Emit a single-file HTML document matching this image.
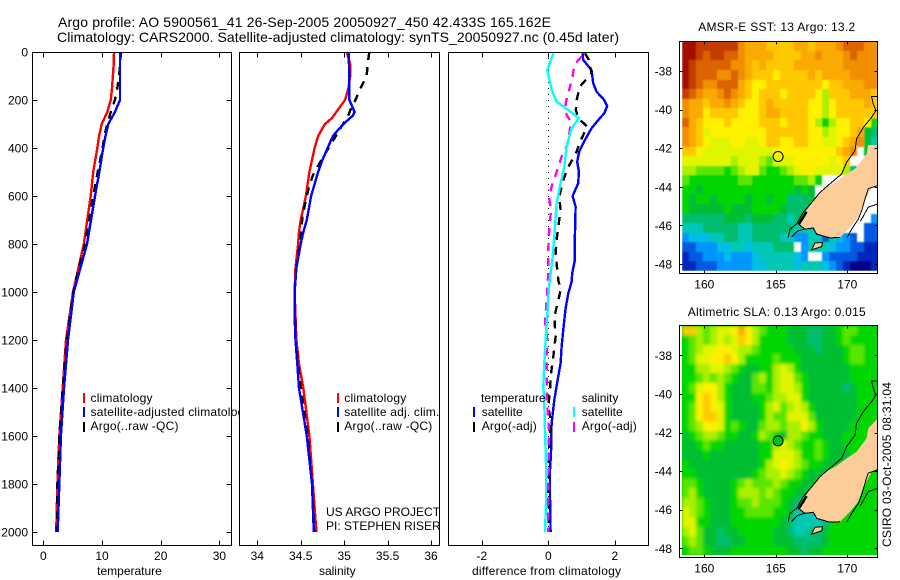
<!DOCTYPE html>
<html>
<head>
<meta charset="utf-8">
<title>Argo profile</title>
<style>
html,body{margin:0;padding:0;background:#fff;}
svg{display:block;font-family:"Liberation Sans",sans-serif;font-size:12px;fill:#000;}
.t14{font-size:14px;}
</style>
</head>
<body>
<svg id="fig" xmlns="http://www.w3.org/2000/svg" width="900" height="580" viewBox="0 0 900 580">
<defs>
  <filter id="soft-sla" x="-5%" y="-5%" width="110%" height="110%"><feGaussianBlur stdDeviation="1.7"/></filter>
  <filter id="soft-sst" x="-5%" y="-5%" width="110%" height="110%"><feGaussianBlur stdDeviation="0.9"/></filter>
</defs>
<rect x="0" y="0" width="900" height="580" fill="#fff"/>
<text class="t14" x="58" y="27" textLength="493" lengthAdjust="spacing">Argo profile: AO 5900561_41 26-Sep-2005 20050927_450 42.433S 165.162E</text>
<text class="t14" x="57" y="42" textLength="562" lengthAdjust="spacing">Climatology: CARS2000. Satellite-adjusted climatology: synTS_20050927.nc (0.45d later)</text>

<g id="p1">
  <g id="p1-marks"></g>
  <g>
    <rect x="83" y="393" width="2" height="10" fill="#f00"/>
    <text x="90.5" y="402" textLength="62">climatology</text>
    <rect x="83" y="407" width="2" height="10" fill="#00f"/>
    <text x="90.5" y="416" textLength="160">satellite-adjusted climatology</text>
    <rect x="83" y="422" width="2" height="10" fill="#000"/>
    <text x="90.5" y="430" textLength="88">Argo(..raw -QC)</text>
  </g>
  <text x="129.5" y="575" text-anchor="middle">temperature</text>
</g>

<g id="p2">
  <g id="p2-marks"></g>
  <g>
    <rect x="337" y="393" width="2" height="10" fill="#f00"/>
    <text x="344.3" y="402" textLength="62">climatology</text>
    <rect x="337" y="407" width="2" height="10" fill="#00f"/>
    <text x="344.3" y="416" textLength="95">satellite adj. clim.</text>
    <rect x="337" y="422" width="2" height="10" fill="#000"/>
    <text x="344.3" y="430" textLength="88">Argo(..raw -QC)</text>
  </g>
  <text x="326" y="516">US ARGO PROJECT</text>
  <text x="326" y="530">PI: STEPHEN RISER</text>
  <text x="337.3" y="575" text-anchor="middle">salinity</text>
</g>

<g id="p3">
  <g id="p3-marks"></g>
  <g>
    <text x="481" y="402">temperature</text>
    <rect x="473" y="407" width="2" height="10" fill="#00f"/>
    <text x="481.7" y="416" textLength="41">satellite</text>
    <rect x="473" y="422" width="2" height="10" fill="#000"/>
    <text x="481.7" y="430" textLength="55">Argo(-adj)</text>
    <text x="581.7" y="402">salinity</text>
    <rect x="573" y="407" width="2" height="10" fill="#0ff"/>
    <text x="581.7" y="416" textLength="41">satellite</text>
    <rect x="573" y="422" width="2" height="10" fill="#f0f"/>
    <text x="581.7" y="430" textLength="55">Argo(-adj)</text>
  </g>
  <text x="546.5" y="575" text-anchor="middle" textLength="149">difference from climatology</text>
</g>

<g id="m1"></g>
<text x="776.7" y="31" text-anchor="middle" textLength="157">AMSR-E SST: 13 Argo: 13.2</text>
<g id="m2"></g>
<text x="776.7" y="316" text-anchor="middle" textLength="178">Altimetric SLA: 0.13 Argo: 0.015</text>
<text transform="translate(891,464.5) rotate(-90)" text-anchor="middle" textLength="165">CSIRO 03-Oct-2005 08:31:04</text>
</svg>

<script>
// ---- Profile data ----
const depthTicks = [0,200,400,600,800,1000,1200,1400,1600,1800,2000];
const tempTicks = [0,10,20,30];
const salTicks = [34,34.5,35,35.5,36];
const salTickLabels = ['34','34.5','35','35.5','36'];
const diffTicks = [-2,0,2];

const tempDepths = [0,50,100,150,200,250,300,350,400,500,600,800,1000,1200,1400,1600,1800,2000];
const tempClimatology = [12.05,12.0,11.85,11.7,11.5,10.9,9.95,9.5,9.2,8.5,8.07,6.9,5.06,3.87,3.3,2.73,2.4,2.2];
const tempSatellite = [13.07,13.07,13.07,13.07,13.07,12.2,11.07,10.6,10.2,9.54,8.8,7.45,5.2,4.2,3.53,3.0,2.73,2.45];
const tempArgo = [13.2,13.1,12.9,12.6,12.2,11.5,10.9,10.4,10.1,9.27,8.5,7.1,5.1,4.0,3.3,2.73,2.4,2.3];

const salClimDepths = [0,50,100,150,200,225,250,275,300,350,400,450,500,600,700,750,800,900,1000,1100,1200,1300,1400,1600,1800,2000];
const salClimatology = [35.03,35.07,35.07,35.05,35.01,34.96,34.91,34.86,34.78,34.70,34.66,34.63,34.60,34.56,34.50,34.48,34.47,34.44,34.43,34.44,34.45,34.48,34.53,34.60,34.64,34.68];
const salSatDepths = [0,100,200,225,250,265,275,300,350,400,450,500,600,700,750,800,900,1000,1100,1200,1300,1400,1600,1800,2000];
const salSatellite = [35.05,35.06,35.06,35.09,35.12,35.10,35.07,34.99,34.87,34.81,34.75,34.70,34.62,34.57,34.53,34.50,34.45,34.43,34.43,34.44,34.46,34.48,34.57,34.63,34.65];
const salArgoDepths = [0,50,100,150,200,225,262,311,443,505,554,616,686,769,900,1000,1200,1400,1600,1800,2000];
const salArgo = [35.29,35.27,35.26,35.19,35.13,35.09,35.05,34.97,34.75,34.65,34.60,34.56,34.52,34.50,34.45,34.43,34.44,34.50,34.58,34.63,34.66];

const diffTempSatDepths = [5,33,75,130,165,200,225,256,276,318,367,415,457,499,547,600,644,769,867,922,957,1006,1068,1145,1228,1297,1367,1450,1547,1672,1742,1853,2000];
const diffTempSat = [1.03,1.05,1.30,1.35,1.45,1.68,1.77,1.68,1.55,1.30,1.10,0.93,0.87,0.92,0.90,0.73,0.82,0.80,0.80,0.72,0.70,0.60,0.52,0.46,0.40,0.37,0.28,0.18,0.10,0.08,0.05,0.05,0.07];
const diffTempArgoDepths = [5,33,89,144,200,242,276,311,367,415,485,533,603,658,728,783,839,880,950,992,1047,1103,1186,1270,1339,1408,1478,1540,1644,1853,1936,2000];
const diffTempArgo = [1.1,1.22,1.3,0.95,0.85,0.83,0.9,1.17,0.98,0.85,0.58,0.45,0.33,0.37,0.30,0.25,0.22,0.25,0.30,0.37,0.28,0.18,0.22,0.15,0.08,0.05,0.0,0.08,0.02,0.0,0.02,0.0];
const diffSalSatDepths = [5,75,158,207,242,276,318,394,478,561,631,769,867,978,1075,1172,1297,1394,1464,1575,1714,1881,2000];
const diffSalSat = [0.15,-0.03,0.10,0.25,0.60,0.92,0.70,0.55,0.48,0.35,0.25,0.18,0.12,0.02,-0.02,-0.07,-0.12,-0.15,-0.12,-0.10,-0.07,-0.07,-0.10];
const diffSalArgoDepths = [19,54,103,158,214,262,290,353,394,436,513,561,603,658,755,825,922,1033,1131,1200,1297,1436,1575,1853,2000];
const diffSalArgo = [1.0,0.78,0.73,0.63,0.52,0.55,0.68,0.62,0.55,0.40,0.22,0.10,0.02,0.08,0.02,0.0,0.0,-0.05,-0.10,-0.03,-0.05,-0.05,0.02,0.0,0.0];

// ---- Map data: colour-level grids, 28 columns by 24 rows (null = no data) ----
const lonTicks = [160,165,170];
const latTicks = [-38,-40,-42,-44,-46,-48];
const floatLon = 165.162;
const floatLat = -42.433;
const sstGrid = [
[18,18,17,17,17,17,17,17,15,14,14,14,13,13,13,13,14,14,13,14,14,14,15,16,16,16,15,15],
[18,18,17,16,17,17,16,16,15,14,14,14,14,13,13,13,13,14,14,15,14,14,14,15,16,15,15,15],
[18,17,16,16,16,16,16,15,15,14,13,14,13,13,13,13,14,14,14,14,14,14,14,15,15,15,15,15],
[18,17,16,16,16,15,15,16,15,14,13,13,13,12,13,13,13,13,14,13,14,14,14,14,15,15,15,15],
[18,17,16,15,15,16,16,16,14,13,12,12,13,13,13,13,13,13,13,13,12,13,13,14,14,14,15,15],
[17,16,15,14,14,15,16,15,14,13,12,13,13,13,12,13,13,13,13,12,10,13,13,13,14,14,14,13],
[15,14,14,13,14,14,15,14,13,12,12,13,14,13,13,13,13,13,12,12,10,12,13,13,13,13,14,13],
[15,14,14,12,13,13,13,13,12,12,12,13,14,14,13,13,13,13,12,12,10,12,13,13,13,13,13,13],
[16,14,13,12,12,12,13,12,12,12,12,13,13,13,12,13,13,13,12,10,8,10,12,12,13,13,12,8],
[15,14,13,11,12,12,12,12,12,12,12,12,13,13,13,13,13,13,12,12,10,11,12,12,13,14,7,6],
[15,14,13,12,11,11,11,12,12,11,11,12,13,13,12,12,13,13,12,12,11,11,12,13,14,15,7,5],
[13,13,12,11,11,11,11,11,11,11,11,11,11,12,12,12,12,12,12,12,12,12,13,14,15,null,7,null],
[11,11,11,11,11,11,11,10,11,11,11,10,9,11,11,11,12,12,12,12,12,11,12,13,null,null,null,null],
[10,10,9,9,9,9,8,9,10,11,11,9,8,8,9,10,11,12,12,11,11,11,11,10,6,null,null,null],
[9,8,8,8,8,8,8,8,9,9,8,8,8,8,8,8,9,9,10,8,null,null,null,null,null,null,null,null],
[8,8,7,8,8,8,8,8,8,8,8,8,8,8,8,8,7,8,7,null,null,null,null,null,null,null,null,null],
[8,7,8,8,7,8,8,8,8,7,8,8,7,8,8,6,6,6,7,null,null,null,null,null,null,null,null,null],
[8,7,7,7,7,7,8,7,7,7,8,8,8,8,7,6,6,6,6,null,null,null,null,null,null,null,null,null],
[6,6,6,6,6,6,7,7,7,6,7,7,7,6,6,5,6,6,null,null,null,null,null,null,null,null,null,3],
[5,5,5,6,6,6,6,6,5,5,6,6,6,6,6,6,5,5,5,5,null,null,null,null,null,null,2,2],
[3,4,4,4,5,5,6,6,5,5,6,6,6,6,5,5,3,3,5,5,2,5,4,3,2,null,2,2],
[2,2,3,3,3,4,4,5,5,4,5,5,5,6,6,6,null,3,5,5,5,4,3,3,2,2,1,1],
[1,2,2,3,3,3,4,3,3,3,4,5,5,5,5,5,4,3,null,null,3,2,2,2,2,1,1,1],
[1,1,2,2,2,3,3,3,3,3,4,4,5,5,5,5,4,5,5,5,4,3,2,1,0,0,0,1]
];
const slaGrid = [
[13,13,10,9,10,11,11,12,14,12,10,9,8,8,8,7,7,7,6,6,7,7,8,9,9,8,8,8],
[8,9,10,9,10,11,10,11,13,12,10,8,8,8,8,7,7,7,6,6,7,7,8,9,8,8,8,8],
[8,9,10,11,11,12,12,11,10,10,9,8,8,8,8,8,7,7,7,6,7,7,7,8,9,9,8,8],
[8,9,11,11,12,12,13,12,10,8,8,8,8,9,8,8,8,7,7,7,7,7,7,8,9,9,8,8],
[8,8,10,10,11,11,10,9,8,7,7,8,8,10,11,10,8,7,7,7,7,7,7,7,8,8,8,8],
[8,8,9,10,9,10,9,8,7,7,9,10,8,10,11,11,9,8,7,7,7,7,7,7,8,8,8,8],
[8,9,11,12,12,10,8,7,7,7,9,9,8,10,11,11,10,8,7,7,7,7,7,6,7,8,8,8],
[8,8,12,13,12,10,8,7,7,7,8,8,9,10,10,11,11,8,7,7,7,7,7,7,7,8,8,8],
[8,9,12,13,12,11,8,7,7,7,7,8,10,11,9,10,11,10,8,7,7,7,7,7,7,8,8,8],
[8,9,12,13,13,11,8,7,7,7,7,8,10,9,9,11,11,11,9,7,7,7,7,7,7,8,8,8],
[8,9,10,12,12,11,8,9,8,7,7,9,10,10,9,10,10,12,10,8,7,7,7,7,8,8,8,8],
[7,8,9,10,10,9,8,8,7,7,8,10,9,8,7,10,10,9,8,8,7,7,7,8,8,8,8,8],
[7,7,8,9,8,8,7,7,7,7,7,8,8,10,11,10,9,8,8,9,8,7,7,8,8,8,8,8],
[7,7,7,8,7,7,7,7,7,7,7,8,8,11,11,11,10,8,8,9,8,7,7,7,8,8,8,8],
[8,7,7,7,7,7,7,7,7,7,7,8,10,11,12,11,10,9,8,8,7,7,7,7,8,8,8,8],
[8,8,7,7,7,7,7,7,7,7,8,9,10,10,11,10,9,8,7,7,7,7,7,7,8,8,8,8],
[9,9,8,7,7,7,7,8,9,10,9,9,9,10,9,8,8,7,7,7,7,7,8,8,8,8,8,8],
[9,10,8,7,7,7,7,8,10,10,10,9,10,9,8,8,7,7,6,7,7,8,8,8,8,8,8,8],
[10,10,9,8,7,7,7,8,9,9,10,9,9,9,8,7,6,5,5,7,8,8,8,8,8,8,8,8],
[11,10,9,8,7,7,7,8,8,9,9,9,9,8,8,7,5,5,5,5,7,8,8,8,8,8,8,8],
[11,11,8,8,7,7,7,8,8,8,8,8,8,8,7,6,5,5,5,5,6,8,8,8,8,8,8,8],
[10,11,9,7,7,6,7,7,8,8,8,8,8,7,7,6,5,5,6,6,7,8,8,8,8,8,8,8],
[9,10,9,7,7,6,6,7,7,8,8,8,8,7,7,7,6,6,6,6,7,8,8,8,8,8,8,8],
[8,9,9,8,7,7,7,8,8,8,8,8,8,8,8,7,7,6,7,7,8,8,8,8,8,8,8,8]
];
const southIslandLon = [172.1,171.47,171.35,170.65,169.95,169.14,168.32,167.62,167.04,166.57,167.04,167.62,167.86,168.79,169.49,170.19,170.77,171.0,171.35,171.7,172.1];
const southIslandLat = [-41.3,-41.78,-42.3,-43.0,-43.34,-43.77,-44.11,-44.72,-45.32,-45.93,-46.19,-46.13,-46.45,-46.65,-46.62,-46.1,-45.58,-45.06,-44.55,-44.03,-43.94];
const southShoreLon = [166.57,167.04,167.62,167.86,168.79,169.49];
const southShoreLat = [-45.93,-46.19,-46.13,-46.45,-46.65,-46.62];
const stewartIslandLon = [167.5,167.74,168.27,168.2];
const stewartIslandLat = [-47.27,-46.91,-46.88,-47.1];
const westCoastLon = [172.1,171.7,171.82,172.0,171.7,171.12,170.65,170.54,169.95,169.6,168.9,168.09,167.62,166.92,166.46,165.99,165.87];
const westCoastLat = [-39.33,-39.33,-39.71,-40.06,-40.4,-40.92,-41.52,-42.13,-42.73,-43.34,-43.77,-44.29,-44.72,-45.32,-45.93,-46.19,-46.62];
const eastCoastLon = [172.1,171.47,171.3,171.0,170.77,170.3,169.95];
const eastCoastLat = [-43.94,-44.1,-44.47,-45.25,-45.68,-46.2,-46.66];
const eastCoast2Lon = [172.1,171.47,171.1,170.9];
const eastCoast2Lat = [-44.9,-45.05,-45.55,-45.8];
const fjordLon = [166.6,166.9,167.15];
const fjordLat = [-45.95,-45.6,-45.3];
const southCoastLon = [166.1,166.5,167.1];
const southCoastLat = [-46.6,-46.3,-46.17];

const colourLevels = ['#00008c','#0028be','#005ae1','#0096ff','#00bee6','#00c8b4','#00be6e','#00be32','#00d700','#5ae600','#aaf000','#e1f500','#fff000','#ffc800','#faaa00','#f09000','#dc6400','#c33c00','#a50f00'];

// ---- Axis functions ----
const yOfDepth = d => 52 + 0.24 * d;
const xOfTemp = t => 43.3 + 5.87 * t;
const xOfSal = s => 257.3 + 86.85 * (s - 34);
const xOfDiff = v => 548.3 + 33.25 * v;
const xOfLon = lon => 704.3 + 14.3 * (lon - 160);

const SVGNS = 'http://www.w3.org/2000/svg';
function mk(tag, parent, attrs) {
  const el = document.createElementNS(SVGNS, tag);
  for (const k in attrs) el.setAttribute(k, attrs[k]);
  parent.appendChild(el);
  return el;
}

function drawLine(parent, name, xs, ys, xf, yf, color, width, dash, clip) {
  const pts = xs.map((v, i) => xf(v).toFixed(1) + ',' + yf(ys[i]).toFixed(1)).join(' ');
  const el = mk('polyline', parent, {points: pts, fill: 'none', stroke: color, 'stroke-width': width, 'shape-rendering': 'crispEdges'});
  if (dash) el.setAttribute('stroke-dasharray', dash);
  if (clip) el.setAttribute('clip-path', 'url(#' + clip + ')');
  
  
  return el;
}

function drawBox(parent, x0, x1, y0, y1) {
  const el = mk('rect', parent, {x: x0 + 0.5, y: y0 + 0.5, width: x1 - x0, height: y1 - y0, fill: 'none', stroke: '#000', 'stroke-width': 1, 'shape-rendering': 'crispEdges'});
  
  
}

function drawBg(parent, x0, x1, y0, y1) {
  const el = mk('rect', parent, {x: x0, y: y0, width: x1 - x0 + 1, height: y1 - y0 + 1, fill: '#fff'});
  
  
}

function tick(parent, x1, y1, x2, y2) {
  const el = mk('line', parent, {x1: Math.round(x1) + 0.5, y1: Math.round(y1) + 0.5, x2: Math.round(x2) + 0.5, y2: Math.round(y2) + 0.5, stroke: '#000', 'stroke-width': 1, 'shape-rendering': 'crispEdges'});
  
  
}

function label(parent, x, y, str, anchor) {
  const el = mk('text', parent, {x: x, y: y, 'text-anchor': anchor});
  el.textContent = str;
  
  
}

function xAxis(parent, ticks, labels, xf, top, bottom, len) {
  ticks.forEach((v, i) => {
    tick(parent, xf(v), top, xf(v), top + len);
    tick(parent, xf(v), bottom, xf(v), bottom - len);
    label(parent, xf(v), bottom + 15, labels[i], 'middle');
  });
}

function clipRect(id, x0, x1, y0, y1) {
  const defs = mk('clipPath', document.getElementById('fig'), {id: id});
  mk('rect', defs, {x: x0, y: y0, width: x1 - x0, height: y1 - y0});
}

const LW = 2.4;
const DASH = '8 7';

// ---- Panel 1: temperature ----
const p1 = document.getElementById('p1-marks');
drawBg(p1, 32, 231, 52, 545);
drawLine(p1, 'temperature-climatology-line', tempClimatology, tempDepths, xOfTemp, yOfDepth, '#f00', LW);
drawLine(p1, 'temperature-argo-line', tempArgo, tempDepths, xOfTemp, yOfDepth, '#000', LW, DASH);
drawLine(p1, 'temperature-satellite-line', tempSatellite, tempDepths, xOfTemp, yOfDepth, '#00f', LW);
drawBox(p1, 32, 231, 52, 545);
xAxis(p1, tempTicks, tempTicks.map(String), xOfTemp, 52, 545, 5);
depthTicks.forEach(d => {
  tick(p1, 32, yOfDepth(d), 37, yOfDepth(d));
  tick(p1, 231, yOfDepth(d), 226, yOfDepth(d));
  label(p1, 28, yOfDepth(d) + 4.5, String(d), 'end');
});

// ---- Panel 2: salinity ----
const p2 = document.getElementById('p2-marks');
drawBg(p2, 239, 439, 52, 545);
drawLine(p2, 'salinity-climatology-line', salClimatology, salClimDepths, xOfSal, yOfDepth, '#f00', LW);
drawLine(p2, 'salinity-argo-line', salArgo, salArgoDepths, xOfSal, yOfDepth, '#000', LW, DASH);
drawLine(p2, 'salinity-satellite-line', salSatellite, salSatDepths, xOfSal, yOfDepth, '#00f', LW);
drawBox(p2, 239, 439, 52, 545);
xAxis(p2, salTicks, salTickLabels, xOfSal, 52, 545, 5);

// ---- Panel 3: difference ----
const p3 = document.getElementById('p3-marks');
drawBg(p3, 448, 648, 52, 545);
const zeroLine = mk('line', p3, {x1: 548.5, y1: 52, x2: 548.5, y2: 532, stroke: '#000', 'stroke-width': 1, 'stroke-dasharray': '1 5', 'shape-rendering': 'crispEdges'});


drawLine(p3, 'diff-temperature-satellite-line', diffTempSat, diffTempSatDepths, xOfDiff, yOfDepth, '#00f', LW);
drawLine(p3, 'diff-temperature-argo-line', diffTempArgo, diffTempArgoDepths, xOfDiff, yOfDepth, '#000', LW, DASH);
drawLine(p3, 'diff-salinity-argo-line', diffSalArgo, diffSalArgoDepths, xOfDiff, yOfDepth, '#f0f', LW, DASH);
drawLine(p3, 'diff-salinity-satellite-line', diffSalSat, diffSalSatDepths, xOfDiff, yOfDepth, '#0ff', LW);
drawBox(p3, 448, 648, 52, 545);
xAxis(p3, diffTicks, diffTicks.map(String), xOfDiff, 52, 545, 5);

// ---- Maps ----
function drawMap(group, grid, name, y38, top, bottom, markerFill, softFilter, underlay, landTop) {
  const yOfLat = lat => y38 + 19.3 * (-38 - lat);
  const lon0 = 158.44, lat0 = -36.46, dLon = 0.4895, dLat = 0.4959;
  const clipId = name + '-clip';
  const landClipId = name + '-land-clip';
  const gridClipId = name + '-grid-clip';
  clipRect(clipId, 679, 878, top, bottom);
  clipRect(landClipId, 679, 878, landTop, bottom);
  const gridBottom = Math.round(yOfLat(lat0 - grid.length * dLat));
  clipRect(gridClipId, 682, 878, top, gridBottom);
  const clipHolder = mk('g', group, {'clip-path': 'url(#' + gridClipId + ')'});
  
  
  if (underlay) {
    const base = mk('rect', clipHolder, {x: 682, y: top, width: 196, height: gridBottom - top, fill: underlay});
    
    
  }
  const cells = mk('g', clipHolder, {filter: 'url(#' + softFilter + ')'});
  
  
  grid.forEach((row, j) => {
    row.forEach((level, i) => {
      if (level === null) return;
      const x0 = Math.round(xOfLon(lon0 + i * dLon));
      const x1 = Math.round(xOfLon(lon0 + (i + 1) * dLon));
      const y0 = Math.round(yOfLat(lat0 - j * dLat));
      const y1 = Math.round(yOfLat(lat0 - (j + 1) * dLat));
      const cell = mk('rect', cells, {x: x0, y: y0, width: x1 - x0, height: y1 - y0, fill: colourLevels[Math.max(0, Math.min(18, Math.round(level)))], 'shape-rendering': 'crispEdges'});
      
      
    });
  });
  const toPts = (lons, lats) => lons.map((v, i) => xOfLon(v).toFixed(1) + ',' + yOfLat(lats[i]).toFixed(1)).join(' ');
  const land = mk('polygon', group, {points: toPts(southIslandLon, southIslandLat), fill: '#fccc99', 'clip-path': 'url(#' + landClipId + ')'});
  
  
  const stewart = mk('polygon', group, {points: toPts(stewartIslandLon, stewartIslandLat), fill: '#fccc99', stroke: '#000', 'stroke-width': 1});
  
  
  drawLine(group, 'south-shore', southShoreLon, southShoreLat, xOfLon, yOfLat, '#000', 1, null, clipId);
  drawLine(group, 'west-coastline', westCoastLon, westCoastLat, xOfLon, yOfLat, '#000', 1, null, clipId);
  drawLine(group, 'east-coastline', eastCoastLon, eastCoastLat, xOfLon, yOfLat, '#000', 1, null, clipId);
  drawLine(group, 'east-coastline-outer', eastCoast2Lon, eastCoast2Lat, xOfLon, yOfLat, '#000', 1, null, clipId);
  drawLine(group, 'fjordland-coast', fjordLon, fjordLat, xOfLon, yOfLat, '#000', 2.5, null, clipId);
  drawLine(group, 'south-coastline', southCoastLon, southCoastLat, xOfLon, yOfLat, '#000', 1, null, clipId);
  const marker = mk('circle', group, {cx: xOfLon(floatLon), cy: yOfLat(floatLat), r: 5, fill: markerFill, stroke: '#000', 'stroke-width': 1});
  
  
  drawBox(group, 679, 877, top, bottom);
  lonTicks.forEach(v => {
    tick(group, xOfLon(v), top, xOfLon(v), top + 3);
    tick(group, xOfLon(v), bottom, xOfLon(v), bottom - 3);
    label(group, xOfLon(v), bottom + 15.5, String(v), 'middle');
  });
  latTicks.forEach(v => {
    tick(group, 679, yOfLat(v), 682, yOfLat(v));
    tick(group, 877, yOfLat(v), 874, yOfLat(v));
    label(group, 672, yOfLat(v) + 4.5, String(v), 'end');
  });
}
drawMap(document.getElementById('m1'), sstGrid, 'sst-map', 71, 41, 273, 'none', 'soft-sst', null, 145);
drawMap(document.getElementById('m2'), slaGrid, 'sla-map', 355.3, 325, 557, '#00be1e', 'soft-sla', '#00d000', 325);
</script>
</body>
</html>
